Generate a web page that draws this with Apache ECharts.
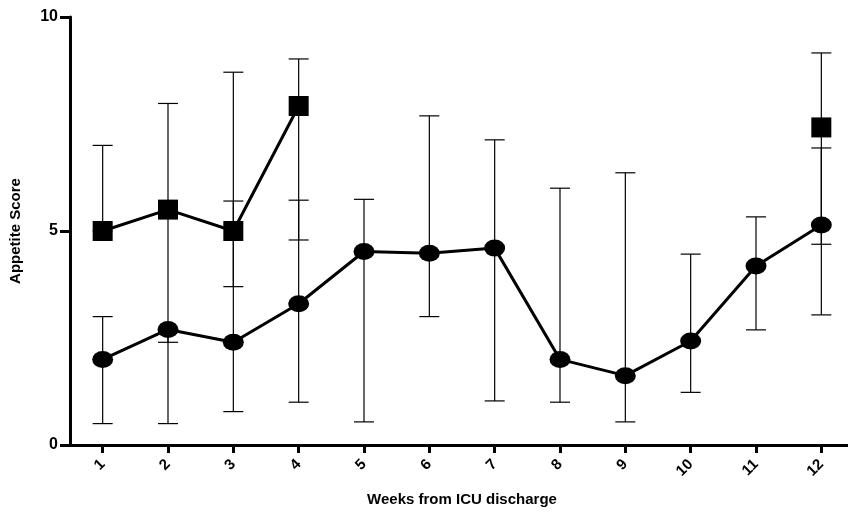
<!DOCTYPE html>
<html>
<head>
<meta charset="utf-8">
<script src="https://cdn.jsdelivr.net/npm/echarts@6/dist/echarts.min.js"></script>
<style>
  html, body { margin: 0; padding: 0; background: #fff; }
  #chart { width: 848px; height: 520px; }
</style>
</head>
<body>
<div id="chart"></div>
<script>
// weeks on the x axis
var weeks = ['1', '2', '3', '4', '5', '6', '7', '8', '9', '10', '11', '12'];
var yTicks = [0, 5, 10];

// circle group: value and error range
var circleValues = [2.0, 2.7, 2.4, 3.3, 4.52, 4.48, 4.6, 2.0, 1.62, 2.43, 4.18, 5.14];
var circleLow = [0.5, 0.5, 0.78, 1.0, 0.54, 3.0, 1.03, 1.0, 0.54, 1.23, 2.69, 3.04];
var circleHigh = [3.0, 2.7, 5.7, 5.72, 5.74, 7.69, 7.13, 6.0, 6.36, 4.46, 5.33, 6.94];

// square group: only weeks 1-4 and 12
var squareValues = [5.0, 5.5, 5.0, 7.92, null, null, null, null, null, null, null, 7.42];
var squareLow = [5.0, 2.4, 3.7, 4.79, null, null, null, null, null, null, null, 4.69];
var squareHigh = [7.0, 7.98, 8.71, 9.02, null, null, null, null, null, null, null, 9.16];

function errData(low, high) {
    var out = [];
    for (var i = 0; i < weeks.length; i++) {
        if (low[i] == null) continue;
        out.push([i, low[i], high[i]]);
    }
    return out;
}

function renderErr(params, api) {
    var x = api.value(0);
    var lo = api.coord([x, api.value(1)]);
    var hi = api.coord([x, api.value(2)]);
    var half = 10;
    var style = { stroke: '#000', lineWidth: 1.2 };
    return {
        type: 'group',
        children: [
            { type: 'line', shape: { x1: lo[0], y1: lo[1], x2: hi[0], y2: hi[1] }, style: style },
            { type: 'line', shape: { x1: lo[0] - half, y1: lo[1], x2: lo[0] + half, y2: lo[1] }, style: style },
            { type: 'line', shape: { x1: hi[0] - half, y1: hi[1], x2: hi[0] + half, y2: hi[1] }, style: style }
        ]
    };
}

var font = '"Liberation Sans", Arial, sans-serif';
var myChart = echarts.init(document.getElementById('chart'));
var option = {
    animation: false,
    grid: { left: 70, top: 17, width: 784, bottom: 75, containLabel: false, outerBoundsMode: 'none' },
    xAxis: {
        type: 'category',
        data: weeks,
        boundaryGap: true,
        name: 'Weeks from ICU discharge',
        nameLocation: 'middle',
        nameGap: 47,
        nameTextStyle: { fontFamily: font, fontWeight: 'bold', fontSize: 15, color: '#000' },
        axisLine: { lineStyle: { color: '#000', width: 3 } },
        axisTick: { show: true, interval: 0, alignWithLabel: true, inside: false, length: 8, lineStyle: { color: '#000', width: 3 } },
        axisLabel: { interval: 0, rotate: 45, margin: 17, fontFamily: font, fontWeight: 'bold', fontSize: 15, color: '#000' },
        splitLine: { show: false }
    },
    yAxis: {
        type: 'value',
        min: 0,
        max: 10,
        interval: 5,
        name: 'Appetite Score',
        nameLocation: 'middle',
        nameGap: 47,
        nameTextStyle: { fontFamily: font, fontWeight: 'bold', fontSize: 15, color: '#000' },
        axisLine: { show: true, lineStyle: { color: '#000', width: 3 } },
        axisTick: { show: true, inside: false, length: 10, lineStyle: { color: '#000', width: 3 } },
        axisLabel: {
            margin: 12, fontFamily: font, fontWeight: 'bold', fontSize: 16, color: '#000',
            formatter: function (v) { return yTicks.indexOf(v) >= 0 ? String(v) : ''; }
        },
        splitLine: { show: false }
    },
    series: [
        { type: 'custom', renderItem: renderErr, data: errData(circleLow, circleHigh), z: 1 },
        { type: 'custom', renderItem: renderErr, data: errData(squareLow, squareHigh), z: 1 },
        {
            type: 'line', data: circleValues, z: 3,
            symbol: 'circle', symbolSize: [21, 17],
            itemStyle: { color: '#000' },
            lineStyle: { color: '#000', width: 3 }
        },
        {
            type: 'line', data: squareValues, z: 3,
            connectNulls: false,
            symbol: 'rect', symbolSize: 20,
            itemStyle: { color: '#000' },
            lineStyle: { color: '#000', width: 3 }
        }
    ]
};
myChart.setOption(option);
</script>
</body>
</html>
